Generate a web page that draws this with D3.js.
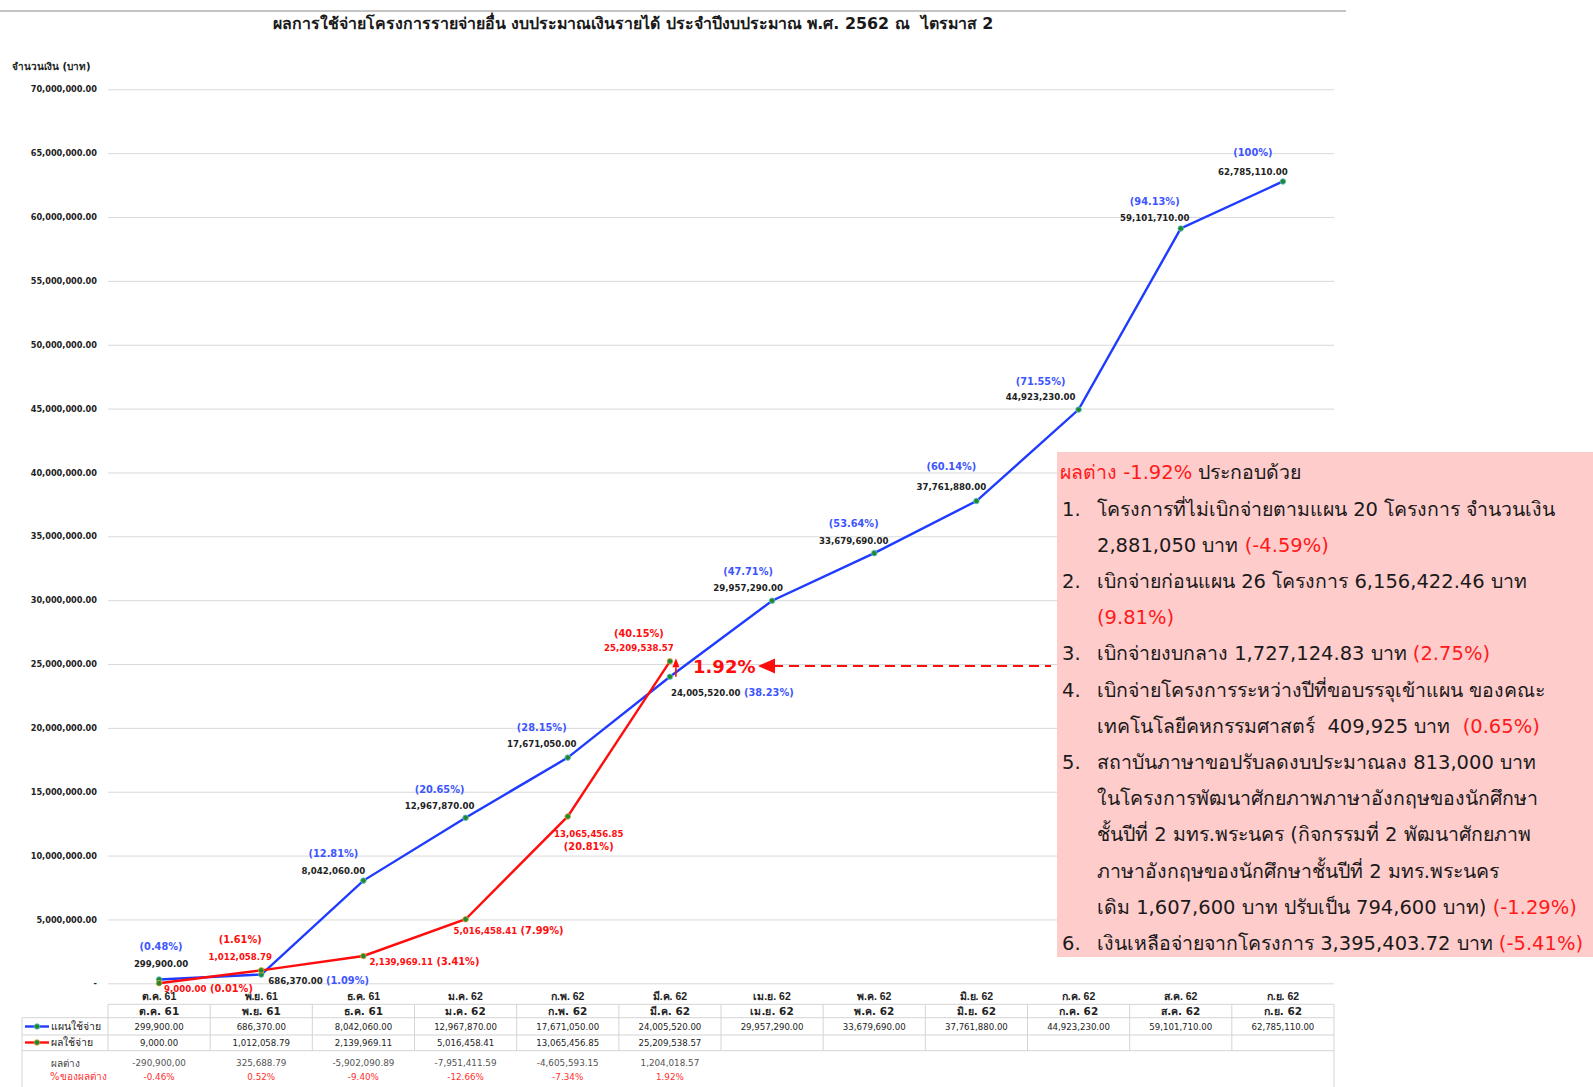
<!DOCTYPE html>
<html><head><meta charset="utf-8">
<script src="https://cdn.jsdelivr.net/npm/d3@7"></script>
<style>
body{margin:0;background:#fff;}
svg{display:block;font-family:Tahoma,"DejaVu Sans","Noto Sans",sans-serif;}
text{white-space:pre;}
</style></head>
<body><svg id="c" width="1593" height="1087"></svg>
<script>
// ---- data ----
const categories = ["ต.ค. 61","พ.ย. 61","ธ.ค. 61","ม.ค. 62","ก.พ. 62","มี.ค. 62","เม.ย. 62","พ.ค. 62","มิ.ย. 62","ก.ค. 62","ส.ค. 62","ก.ย. 62"];
const planValues = [299900, 686370, 8042060, 12967870, 17671050, 24005520, 29957290, 33679690, 37761880, 44923230, 59101710, 62785110];
const planPct = ["0.48%","1.09%","12.81%","20.65%","28.15%","38.23%","47.71%","53.64%","60.14%","71.55%","94.13%","100%"];
const actualValues = [9000, 1012058.79, 2139969.11, 5016458.41, 13065456.85, 25209538.57];
const actualPct = ["0.01%","1.61%","3.41%","7.99%","20.81%","40.15%"];
const diffLabels = ["-290,900,00","325,688.79","-5,902,090.89","-7,951,411.59","-4,605,593.15","1,204,018.57"];
const diffPctLabels = ["-0.46%","0.52%","-9.40%","-12.66%","-7.34%","1.92%"];
const yTicks = [0,5e6,10e6,15e6,20e6,25e6,30e6,35e6,40e6,45e6,50e6,55e6,60e6,65e6,70e6];
const title = "ผลการใช้จ่ายโครงการรายจ่ายอื่น งบประมาณเงินรายได้ ประจำปีงบประมาณ พ.ศ. 2562 ณ  ไตรมาส 2";
const yTitle = "จำนวนเงิน (บาท)";
const seriesNames = ["แผนใช้จ่าย","ผลใช้จ่าย"];
const diffRowNames = ["ผลต่าง","%ของผลต่าง"];
const noteLines = [
  [["ผลต่าง -1.92%",1],[" ประกอบด้วย",0]],
  [["1.",0,"num"],["โครงการที่ไม่เบิกจ่ายตามแผน 20 โครงการ จำนวนเงิน",0]],
  [["2,881,050 บาท ",0],["(-4.59%)",1]],
  [["2.",0,"num"],["เบิกจ่ายก่อนแผน 26 โครงการ 6,156,422.46 บาท",0]],
  [["(9.81%)",1]],
  [["3.",0,"num"],["เบิกจ่ายงบกลาง 1,727,124.83 บาท ",0],["(2.75%)",1]],
  [["4.",0,"num"],["เบิกจ่ายโครงการระหว่างปีที่ขอบรรจุเข้าแผน ของคณะ",0]],
  [["เทคโนโลยีคหกรรมศาสตร์  409,925 บาท  ",0],["(0.65%)",1]],
  [["5.",0,"num"],["สถาบันภาษาขอปรับลดงบประมาณลง 813,000 บาท",0]],
  [["ในโครงการพัฒนาศักยภาพภาษาอังกฤษของนักศึกษา",0]],
  [["ชั้นปีที่ 2 มทร.พระนคร (กิจกรรมที่ 2 พัฒนาศักยภาพ",0]],
  [["ภาษาอังกฤษของนักศึกษาชั้นปีที่ 2 มทร.พระนคร",0]],
  [["เดิม 1,607,600 บาท ปรับเป็น 794,600 บาท) ",0],["(-1.29%)",1]],
  [["6.",0,"num"],["เงินเหลือจ่ายจากโครงการ 3,395,403.72 บาท ",0],["(-5.41%)",1]]
];
const diffNote = "1.92%";

// ---- layout (not data) ----
const L = 108, R = 1334, T = 89.3, B = 983.3;
const BLUE = "#1f3bff", RED = "#ff0d0d", PCTBLUE = "#3d55ff", GREEN = "#1e8a2e";
// label offsets: [mode, dx, dyValue, dyPct]
const planLabelLayout = [["up",2,-15.5,-32.5],["right",7,4],["up",-30,-10,-27],["up",-26,-12,-28],["up",-26,-13.6,-30],["right",1,14],["up",-24,-12.7,-28.7],["up",-20.5,-12.5,-30],["up",-25,-14,-34],["up",-38,-12.3,-28],["up",-26,-10,-27],["up",-30,-9.5,-28.5]];
const actualLabelLayout = [["right",5,3.5],["up",-21,-13,-31],["right",6,3],["right",-12,9.5],["down",21,17.5,30.5],["up",-31,-13,-28]];

const svg = d3.select("#c");
const x = d3.scaleBand().domain(categories).range([L, R]);
const y = d3.scaleLinear().domain([0, 70e6]).range([B, T]);
const cx = c => x(c) + x.bandwidth()/2;
const fmt2 = d3.format(",.2f");

// top rule
svg.append("line").attr("x1",0).attr("x2",1346).attr("y1",11).attr("y2",11).attr("stroke","#8a8a8a").attr("stroke-width",1);
// title
svg.append("text").attr("x",633).attr("y",28.5).attr("text-anchor","middle").attr("font-size",15.9).attr("font-weight","bold").attr("fill","#1a1a1a").text(title);
svg.append("text").attr("x",12).attr("y",70).attr("font-size",10).attr("font-weight","bold").attr("fill","#222").text(yTitle);

// y axis + grid
const ya = svg.append("g").attr("transform",`translate(${L},0)`)
  .call(d3.axisLeft(y).tickValues(yTicks).tickSize(-(R-L)).tickPadding(11).tickFormat(d => d===0 ? "-" : fmt2(d)));
ya.select(".domain").remove();
ya.selectAll(".tick line").attr("stroke","#d9d9d9");
ya.selectAll(".tick text").attr("font-size",8.2).attr("font-weight","bold").attr("fill","#222").attr("font-family","'DejaVu Sans',sans-serif");

// x axis labels
const xa = svg.append("g").attr("transform",`translate(0,${B})`)
  .call(d3.axisBottom(x).tickSize(0).tickPadding(9));
xa.select(".domain").remove();
xa.selectAll(".tick text").attr("font-size",10.5).attr("font-weight","bold").attr("fill","#222");

// lines
const line = d3.line().x((d,i)=>cx(categories[i])).y(d=>y(d));
svg.append("path").datum(planValues).attr("d",line).attr("fill","none").attr("stroke",BLUE).attr("stroke-width",2.4);
svg.append("path").datum(actualValues).attr("d",line).attr("fill","none").attr("stroke",RED).attr("stroke-width",2.4);
svg.selectAll(".pm").data(planValues).join("circle").attr("cx",(d,i)=>cx(categories[i])).attr("cy",d=>y(d)).attr("r",2.8).attr("fill",GREEN).attr("stroke","#6cc0d8").attr("stroke-width",0.8);
svg.selectAll(".am").data(actualValues).join("circle").attr("cx",(d,i)=>cx(categories[i])).attr("cy",d=>y(d)).attr("r",2.8).attr("fill",GREEN).attr("stroke","#f0a040").attr("stroke-width",0.8);

// point labels
function labels(values, pcts, layout, valColor, pctColor){
  values.forEach((v,i)=>{
    const px = cx(categories[i]), py = y(v);
    const [mode, dx, dy1, dy2] = layout[i];
    const vs = fmt2(v), ps = "(" + pcts[i] + ")";
    if(mode==="right"){
      const t = svg.append("text").attr("x",px+dx).attr("y",py+dy1).attr("dy","0.35em").attr("font-family","'DejaVu Sans',sans-serif").attr("font-weight","bold");
      t.append("tspan").attr("font-size",8.6).attr("fill",valColor).text(vs);
      t.append("tspan").attr("font-size",9.8).attr("fill",pctColor).text(" " + ps);
    } else {
      svg.append("text").attr("x",px+dx).attr("y",py+dy1).attr("dy","0.35em").attr("text-anchor","middle").attr("font-family","'DejaVu Sans',sans-serif").attr("font-weight","bold").attr("font-size",8.6).attr("fill",valColor).text(vs);
      svg.append("text").attr("x",px+dx).attr("y",py+dy2).attr("dy","0.35em").attr("text-anchor","middle").attr("font-family","'DejaVu Sans',sans-serif").attr("font-weight","bold").attr("font-size",9.8).attr("fill",pctColor).text(ps);
    }
  });
}
labels(planValues, planPct, planLabelLayout, "#222", PCTBLUE);
labels(actualValues, actualPct, actualLabelLayout, RED, RED);

// small up arrow between plan and actual at last actual month
const li = actualValues.length-1;
const ax = cx(categories[li]) + 6, ay1 = y(planValues[li]), ay2 = y(actualValues[li]);
svg.append("line").attr("x1",ax).attr("x2",ax).attr("y1",ay1).attr("y2",ay2+6).attr("stroke",RED).attr("stroke-width",1.6);
svg.append("path").attr("d",`M${ax},${ay2-3}L${ax-3.5},${ay2+6}L${ax+3.5},${ay2+6}Z`).attr("fill",RED);
svg.append("text").attr("x",693).attr("y",y(25e6)+3).attr("dy","0.35em").attr("font-size",18).attr("font-weight","bold").attr("fill",RED).attr("font-family","'DejaVu Sans',sans-serif").text(diffNote);
// dashed arrow
const dy0 = y(25e6)+2;
svg.append("line").attr("x1",773).attr("x2",1051).attr("y1",dy0).attr("y2",dy0).attr("stroke",RED).attr("stroke-width",2).attr("stroke-dasharray","10,6");
svg.append("path").attr("d",`M758,${dy0}L775,${dy0-7.5}L775,${dy0+7.5}Z`).attr("fill",RED);

// table
const grid = "#d4d4d4";
const tg = svg.append("g");
[[L,1004.3],[22,1017.7],[22,1035],[22,1050.7]].forEach(([x1,yy])=>tg.append("line").attr("x1",x1).attr("x2",R).attr("y1",yy).attr("y2",yy).attr("stroke",grid));
categories.forEach(c=>tg.append("line").attr("x1",x(c)).attr("x2",x(c)).attr("y1",1004.3).attr("y2",1050.7).attr("stroke",grid));
tg.append("line").attr("x1",R).attr("x2",R).attr("y1",1004.3).attr("y2",1087).attr("stroke",grid);
tg.append("line").attr("x1",22).attr("x2",22).attr("y1",1017.7).attr("y2",1087).attr("stroke",grid);
tg.selectAll(".c2").data(categories).join("text").attr("x",d=>cx(d)).attr("y",1011).attr("dy","0.35em").attr("text-anchor","middle").attr("font-size",10.5).attr("font-weight","bold").attr("fill","#222").text(d=>d);
tg.selectAll(".r3").data(planValues).join("text").attr("x",(d,i)=>cx(categories[i])).attr("y",1026.5).attr("dy","0.35em").attr("text-anchor","middle").attr("font-size",8.6).attr("font-family","'DejaVu Sans',sans-serif").attr("fill","#222").text(d=>fmt2(d));
tg.selectAll(".r4").data(actualValues).join("text").attr("x",(d,i)=>cx(categories[i])).attr("y",1042.5).attr("dy","0.35em").attr("text-anchor","middle").attr("font-size",8.6).attr("font-family","'DejaVu Sans',sans-serif").attr("fill","#222").text(d=>fmt2(d));
// legend in table
[[BLUE,"#6cc0d8",1026.5,seriesNames[0]],[RED,"#f0a040",1042.5,seriesNames[1]]].forEach(([col,st,yy,name])=>{
  tg.append("line").attr("x1",25).attr("x2",49).attr("y1",yy).attr("y2",yy).attr("stroke",col).attr("stroke-width",2.4);
  tg.append("circle").attr("cx",37).attr("cy",yy).attr("r",2.8).attr("fill",GREEN).attr("stroke",st).attr("stroke-width",0.8);
  tg.append("text").attr("x",51).attr("y",yy).attr("dy","0.35em").attr("font-size",10.5).attr("fill","#222").text(name);
});
tg.append("text").attr("x",51).attr("y",1063).attr("dy","0.35em").attr("font-size",10).attr("fill","#444").text(diffRowNames[0]);
tg.append("text").attr("x",50).attr("y",1076.5).attr("dy","0.35em").attr("font-size",10).attr("fill","#ff3030").text(diffRowNames[1]);
tg.selectAll(".d1").data(diffLabels).join("text").attr("x",(d,i)=>cx(categories[i])).attr("y",1063).attr("dy","0.35em").attr("text-anchor","middle").attr("font-size",8.8).attr("font-family","'DejaVu Sans',sans-serif").attr("fill","#555").text(d=>d);
tg.selectAll(".d2").data(diffPctLabels).join("text").attr("x",(d,i)=>cx(categories[i])).attr("y",1076.5).attr("dy","0.35em").attr("text-anchor","middle").attr("font-size",8.8).attr("font-family","'DejaVu Sans',sans-serif").attr("fill","#ff3030").text(d=>d);

// note box
svg.append("rect").attr("x",1057).attr("y",452).attr("width",536).attr("height",505).attr("fill","#ffcccc");
const NFS = 19.5;
noteLines.forEach((segs,k)=>{
  const yy = 472.4 + k*36.2 + 7;
  let startX = 1097;
  if(k===0) startX = 1060;
  const t = svg.append("text").attr("y",yy).attr("font-size",NFS).attr("fill","#1a1a1a");
  let hasNum = segs[0][2]==="num";
  if(hasNum){
    svg.append("text").attr("x",1062).attr("y",yy).attr("font-size",NFS).attr("fill","#1a1a1a").text(segs[0][0]);
    segs = segs.slice(1);
  }
  t.attr("x",startX);
  segs.forEach(s=>t.append("tspan").attr("fill",s[1]?"#ff1a1a":"#1a1a1a").text(s[0]));
});
</script></body></html>
